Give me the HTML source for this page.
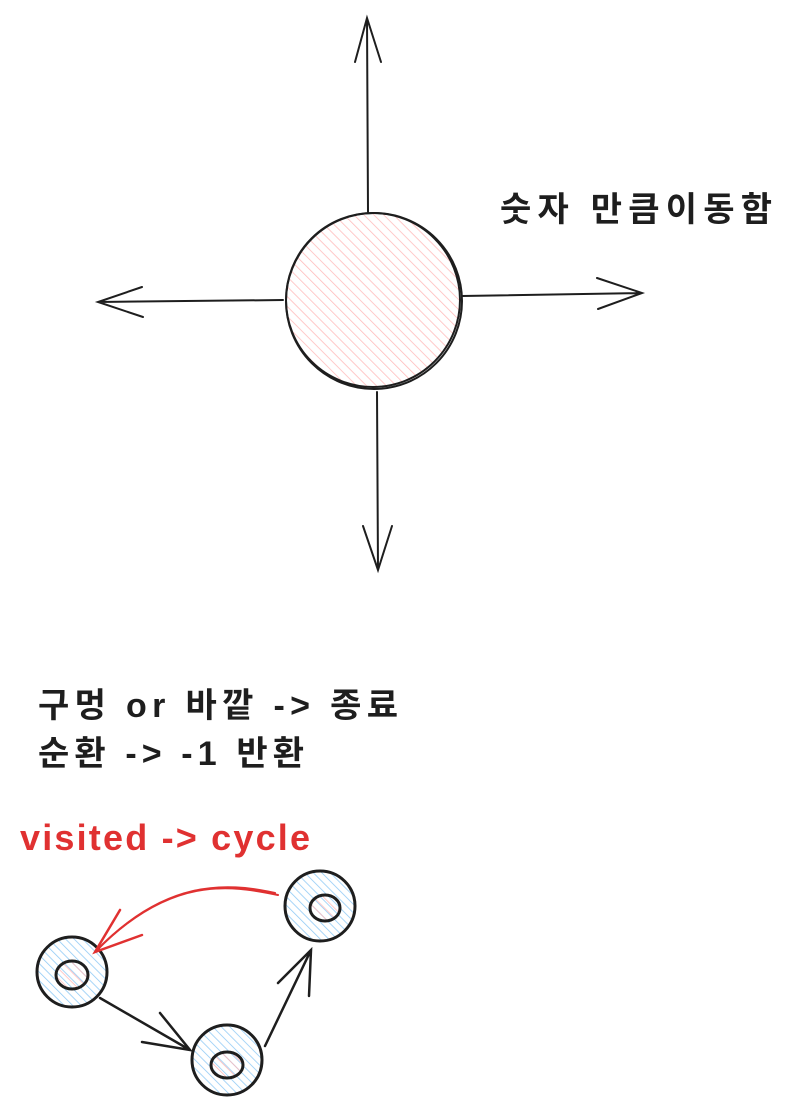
<!DOCTYPE html>
<html><head><meta charset="utf-8"><style>
body{margin:0;background:#fff;width:796px;height:1116px;overflow:hidden}
svg{position:absolute;left:0;top:0}
</style></head><body>
<svg width="796" height="1116" viewBox="0 0 796 1116">
<defs>
<pattern id="pk" width="7" height="7" patternUnits="userSpaceOnUse" patternTransform="rotate(-45)"><line x1="0" y1="0" x2="0" y2="7" stroke="#ffb8b8" stroke-width="1.5"/></pattern>
<pattern id="bl" width="6" height="6" patternUnits="userSpaceOnUse" patternTransform="rotate(-45)"><line x1="0" y1="0" x2="0" y2="6" stroke="#8cc8f5" stroke-width="1.5"/></pattern>
</defs>
<g fill="none" stroke="#1e1e1e" stroke-width="2" stroke-linecap="round">
<circle cx="373" cy="300" r="87" fill="url(#pk)"/>
<circle cx="374" cy="301" r="88"/>
<path d="M368 212 L367 18 M355 62 L367 18 L381 62"/>
<path d="M283 300 L98 302 M142 287 L98 302 L143 317"/>
<path d="M462 296 L642 293 M597 278 L642 293 L598 309"/>
<path d="M377 392 L378 570 M363 526 L378 570 L392 526"/>
<circle cx="72" cy="972" r="35" fill="url(#bl)" stroke-width="3"/>
<ellipse cx="72" cy="975" rx="16" ry="14" fill="url(#pk)" stroke-width="3"/>
<circle cx="227" cy="1060" r="35" fill="url(#bl)" stroke-width="3"/>
<ellipse cx="227" cy="1065" rx="16" ry="13" fill="url(#pk)" stroke-width="3"/>
<circle cx="320" cy="906" r="35" fill="url(#bl)" stroke-width="3"/>
<ellipse cx="325" cy="908" rx="15" ry="13" fill="url(#pk)" stroke-width="3"/>
<path d="M100 998 L190 1050 M160 1013 L190 1050 L142 1042" stroke-width="2.5"/>
<path d="M265 1046 L311 950 M278 983 L311 950 L309 996" stroke-width="2.5"/>
</g>
<g fill="none" stroke="#e03131" stroke-width="2" stroke-linecap="round">
<path d="M278 895 C230 885 170 875 95 952"/>
<path d="M275 893 C225 882 165 880 97 950"/>
<path d="M120 910 L95 952 L142 935" stroke-width="2.5"/>
</g>
<g font-family="'Liberation Sans','Noto Sans CJK KR',sans-serif" font-weight="bold" font-size="34" fill="#1e1e1e">
<text x="500" y="221" textLength="272" lengthAdjust="spacing">숫자 만큼이동함</text>
<text x="38" y="717" textLength="360" lengthAdjust="spacing">구멍 or 바깥 -&gt; 종료</text>
<text x="38" y="765" textLength="266" lengthAdjust="spacing">순환 -&gt; -1 반환</text>
<text x="20" y="850" fill="#e03131" font-size="36" textLength="290" lengthAdjust="spacing">visited -&gt; cycle</text>
</g>
</svg>
</body></html>
